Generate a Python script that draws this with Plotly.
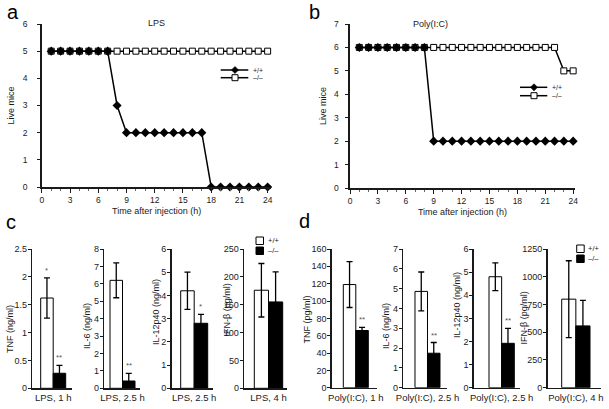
import plotly.graph_objects as go

W, H = 609, 409
FONT = "Liberation Sans, Arial, sans-serif"
INK = "#1a1a1a"


def fx(x):
    return x / W


def fy(y):
    return 1 - y / H


# ---------------- data ----------------
hours = [1, 2, 3, 4, 5, 6, 7, 8, 9, 10, 11, 12, 13, 14, 15, 16, 17, 18, 19, 20, 21, 22, 23, 24]
x_ticks = [0, 3, 6, 9, 12, 15, 18, 21, 24]

lps_wt = [5, 5, 5, 5, 5, 5, 5, 3, 2, 2, 2, 2, 2, 2, 2, 2, 2, 0, 0, 0, 0, 0, 0, 0]
lps_ko = [5, 5, 5, 5, 5, 5, 5, 5, 5, 5, 5, 5, 5, 5, 5, 5, 5, 5, 5, 5, 5, 5, 5, 5]
pic_wt = [6, 6, 6, 6, 6, 6, 6, 6, 2, 2, 2, 2, 2, 2, 2, 2, 2, 2, 2, 2, 2, 2, 2, 2]
pic_ko = [6, 6, 6, 6, 6, 6, 6, 6, 6, 6, 6, 6, 6, 6, 6, 6, 6, 6, 6, 6, 6, 6, 5, 5]

c_cats = ["LPS, 1 h", "LPS, 2.5 h", "LPS, 2.5 h", "LPS, 4 h"]
c_ytitles = ["TNF (ng/ml)", "IL-6 (ng/ml)", "IL-12p40 (ng/ml)", "IFN-β (pg/ml)"]
c_wt = [1.62, 6.2, 4.2, 176]
c_wt_err = [0.36, 1.0, 0.8, 48]
c_ko = [0.27, 0.42, 2.8, 155]
c_ko_err = [0.14, 0.44, 0.38, 54]
c_ymax = [2.5, 8, 6, 250]
c_dtick = [0.5, 1, 1, 50]
c_sig_wt = ["*", "", "", ""]
c_sig_ko = ["**", "**", "*", ""]

d_cats = ["Poly(I:C), 1 h", "Poly(I:C), 2.5 h", "Poly(I:C), 2.5 h", "Poly(I:C), 4 h"]
d_ytitles = ["TNF (pg/ml)", "IL-6 (ng/ml)", "IL-12p40 (ng/ml)", "IFN-β (pg/ml)"]
d_wt = [119, 4.86, 4.8, 798]
d_wt_err = [26.5, 0.98, 0.6, 346]
d_ko = [66, 1.74, 1.92, 557]
d_ko_err = [3.7, 0.54, 0.65, 230]
d_ymax = [160, 7, 6, 1250]
d_dtick = [20, 1, 1, 250]
d_sig_wt = ["", "", "", ""]
d_sig_ko = ["**", "**", "**", ""]

fig = go.Figure()
layout = {}
annotations = []
shapes = []

# ---------------- survival panels ----------------
line_panels = [
    dict(ax="", xdom=(41.8, 271.4), ydom=(24, 187), xr=[0, 24.4], yr=[0, 6],
         wt=lps_wt, ko=lps_ko, title="LPS", tpos=(146, 16), standoff=8),
    dict(ax="2", xdom=(350, 575), ydom=(24, 188), xr=[0, 24.2], yr=[0, 7],
         wt=pic_wt, ko=pic_ko, title="Poly(I:C)", tpos=(450, 17), standoff=5),
]
for p in line_panels:
    a = p["ax"]
    fig.add_trace(go.Scatter(
        x=hours, y=p["ko"], mode="lines+markers", name="–/–",
        xaxis="x" + a, yaxis="y" + a, cliponaxis=False,
        line=dict(color="black", width=1.5),
        marker=dict(symbol="square", size=6, color="white", line=dict(color="black", width=1))))
    fig.add_trace(go.Scatter(
        x=hours, y=p["wt"], mode="lines+markers", name="+/+",
        xaxis="x" + a, yaxis="y" + a, cliponaxis=False,
        line=dict(color="black", width=1.5),
        marker=dict(symbol="diamond", size=7, color="black")))
    layout["xaxis" + a] = dict(
        domain=[fx(p["xdom"][0]), fx(p["xdom"][1])], range=p["xr"], anchor="y" + a,
        automargin=False,
        tickvals=x_ticks, ticks="outside", ticklen=4, tickcolor=INK, tickwidth=1,
        minor=dict(dtick=1, tick0=0, ticks="outside", ticklen=2, tickcolor="#666"),
        showline=True, linecolor=INK, linewidth=1.6, showgrid=False, zeroline=False,
        tickfont=dict(size=8.5, color=INK, family=FONT),
        title=dict(text="Time after injection (h)", font=dict(size=9, color=INK, family=FONT), standoff=4))
    layout["yaxis" + a] = dict(
        domain=[fy(p["ydom"][1]), fy(p["ydom"][0])], range=p["yr"], anchor="x" + a,
        automargin=False,
        dtick=1, ticks="outside", ticklen=3, tickcolor=INK,
        ticklabelstandoff=p["standoff"],
        showline=True, linecolor=INK, linewidth=1.6, showgrid=False, zeroline=False,
        tickfont=dict(size=8.5, color=INK, family=FONT),
        title=dict(text="Live mice", font=dict(size=9, color=INK, family=FONT), standoff=6))
    annotations.append(dict(text=p["title"], x=fx(p["tpos"][0]), y=fy(p["tpos"][1]),
                            xref="paper", yref="paper", showarrow=False,
                            font=dict(size=9, color=INK, family=FONT)))

# line legends (keys)
for (lx0, lx1, mx, y1, y2, tx) in [(220.7, 248.3, 235, 70, 77.7, 250.5),
                                   (520, 547.3, 534, 87.3, 95.7, 549.5)]:
    for yy in (y1, y2):
        shapes.append(dict(type="line", xref="paper", yref="paper",
                           x0=fx(lx0), x1=fx(lx1), y0=fy(yy), y1=fy(yy),
                           line=dict(color="black", width=1.5)))
    r = 3.6
    path = "M {},{} L {},{} L {},{} L {},{} Z".format(
        fx(mx), fy(y1 - r), fx(mx + r), fy(y1), fx(mx), fy(y1 + r), fx(mx - r), fy(y1))
    shapes.append(dict(type="path", xref="paper", yref="paper", path=path,
                       fillcolor="black", line=dict(color="black", width=0.5)))
    shapes.append(dict(type="rect", xref="paper", yref="paper",
                       x0=fx(mx - 3), x1=fx(mx + 3), y0=fy(y2 + 3), y1=fy(y2 - 3),
                       fillcolor="white", line=dict(color="black", width=1)))
    for yy, t in ((y1, "+/+"), (y2, "–/–")):
        annotations.append(dict(text=t, x=fx(tx), y=fy(yy), xref="paper", yref="paper",
                                xanchor="left", yanchor="middle", showarrow=False,
                                font=dict(size=7, color=INK, family=FONT)))

# ---------------- bar panels ----------------
bar_groups = [
    dict(cats=c_cats, yt=c_ytitles, wt=c_wt, wte=c_wt_err, ko=c_ko, koe=c_ko_err,
         ymax=c_ymax, dt=c_dtick, swt=c_sig_wt, sko=c_sig_ko, ydom=(249, 388.3),
         doms=[(32.3, 71.7), (104.3, 140), (171.7, 212.7), (244.3, 286.7)],
         bars=[(40.7, 65.7), (110, 135), (180.7, 207.7), (254.3, 282.7)],
         tpos=[(10, 329), (87, 326), (156, 312), (226.5, 310)], first=3),
    dict(cats=d_cats, yt=d_ytitles, wt=d_wt, wte=d_wt_err, ko=d_ko, koe=d_ko_err,
         ymax=d_ymax, dt=d_dtick, swt=d_sig_wt, sko=d_sig_ko, ydom=(249, 387.7),
         doms=[(332, 377), (403.3, 446.7), (474, 520), (547.7, 601)],
         bars=[(343.3, 368.3), (415, 440), (489, 514.3), (561.7, 590)],
         tpos=[(306.5, 320), (386, 326), (457, 305), (523.5, 318)], first=7),
]
for g in bar_groups:
    for i in range(4):
        n = str(g["first"] + i)
        d0, d1 = g["doms"][i]
        b0, b1 = g["bars"][i]
        u = b1 - b0
        xr = [-0.5 - (b0 - d0) / u, 0.5 + (d1 - b1) / u]
        cat = g["cats"][i]
        fig.add_trace(go.Bar(
            x=[cat], y=[g["wt"][i]], name="+/+", xaxis="x" + n, yaxis="y" + n,
            marker=dict(color="white", line=dict(color="black", width=1)),
            error_y=dict(type="data", array=[g["wte"][i]], color="black", thickness=1.3, width=3)))
        fig.add_trace(go.Bar(
            x=[cat], y=[g["ko"][i]], name="–/–", xaxis="x" + n, yaxis="y" + n,
            marker=dict(color="black", line=dict(color="black", width=1)),
            error_y=dict(type="data", array=[g["koe"][i]], color="black", thickness=1.3, width=3)))
        layout["xaxis" + n] = dict(
            domain=[fx(d0), fx(d1)], range=xr, anchor="y" + n, type="category",
            automargin=False,
            showline=True, linecolor=INK, linewidth=1.6, ticks="", showgrid=False,
            zeroline=False, tickfont=dict(size=9.5, color=INK, family=FONT))
        layout["yaxis" + n] = dict(
            domain=[fy(g["ydom"][1]), fy(g["ydom"][0])], range=[0, g["ymax"][i]], anchor="x" + n,
            automargin=False, ticklabelstandoff=-1,
            dtick=g["dt"][i], ticks="outside", ticklen=3, tickcolor=INK,
            showline=True, linecolor=INK, linewidth=1.6, showgrid=False, zeroline=False,
            tickfont=dict(size=9, color=INK, family=FONT))
        tx, ty = g["tpos"][i]
        annotations.append(dict(text=g["yt"][i], x=fx(tx), y=fy(ty), xref="paper", yref="paper",
                                textangle=-90, showarrow=False, xanchor="center", yanchor="middle",
                                font=dict(size=9, color=INK, family=FONT)))
        for off, s, v, e in ((-0.25, g["swt"][i], g["wt"][i], g["wte"][i]),
                             (0.25, g["sko"][i], g["ko"][i], g["koe"][i])):
            if s:
                annotations.append(dict(text=s, x=off, y=v + e, xref="x" + n, yref="y" + n,
                                        yanchor="bottom", showarrow=False, yshift=1,
                                        font=dict(size=8, color="#555", family=FONT)))

# bar legends
for (lx, ywt, yko, tx) in [(256, 237, 247, 266), (576.7, 245, 255, 586)]:
    shapes.append(dict(type="rect", xref="paper", yref="paper",
                       x0=fx(lx), x1=fx(lx + 7.5), y0=fy(ywt + 7.5), y1=fy(ywt),
                       fillcolor="white", line=dict(color="black", width=1)))
    shapes.append(dict(type="rect", xref="paper", yref="paper",
                       x0=fx(lx), x1=fx(lx + 7.5), y0=fy(yko + 7.5), y1=fy(yko),
                       fillcolor="black", line=dict(color="black", width=1)))
    for yy, t in ((ywt + 3.8, "+/+"), (yko + 3.8, "–/–")):
        annotations.append(dict(text=t, x=fx(tx), y=fy(yy), xref="paper", yref="paper",
                                xanchor="left", yanchor="middle", showarrow=False,
                                font=dict(size=7.5, color=INK, family=FONT)))

# panel letters
for t, x, y in (("a", 12.5, 12), ("b", 314, 12), ("c", 11, 222), ("d", 304, 221)):
    annotations.append(dict(text=t, x=fx(x), y=fy(y), xref="paper", yref="paper",
                            showarrow=False, xanchor="center", yanchor="middle",
                            font=dict(size=20, color="black", family=FONT)))

fig.update_layout(
    template="none",
    width=W, height=H, margin=dict(l=0, r=0, t=0, b=0),
    paper_bgcolor="white", plot_bgcolor="white", showlegend=False,
    barmode="group", bargap=0, bargroupgap=0,
    font=dict(family=FONT, color=INK),
    annotations=annotations, shapes=shapes, **layout)

fig.write_html("out.html", config={"displayModeBar": False, "staticPlot": True},
               post_script="document.body.style.margin='0px';document.body.style.overflow='hidden';")
